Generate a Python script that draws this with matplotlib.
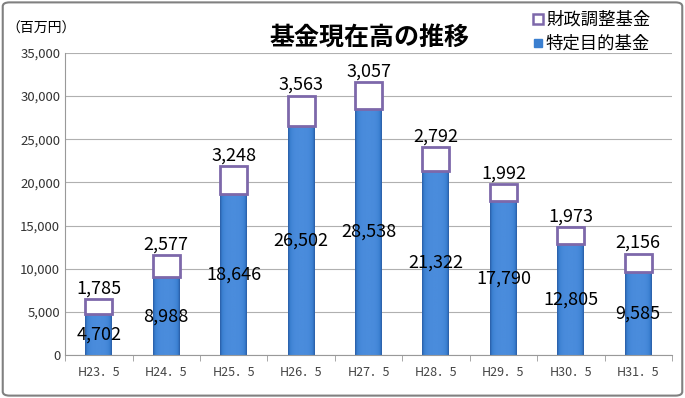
import numpy as np
import matplotlib.pyplot as plt
from matplotlib.patches import FancyBboxPatch
from matplotlib.lines import Line2D
from matplotlib.colors import LinearSegmentedColormap

plt.rcParams['font.family'] = ['Noto Sans CJK JP', 'DejaVu Sans']

years = ['H23．5', 'H24．5', 'H25．5', 'H26．5', 'H27．5', 'H28．5', 'H29．5', 'H30．5', 'H31．5']
tokutei = [4702, 8988, 18646, 26502, 28538, 21322, 17790, 12805, 9585]   # 特定目的基金
zaisei = [1785, 2577, 3248, 3563, 3057, 2792, 1992, 1973, 2156]          # 財政調整基金

fig = plt.figure(figsize=(6.85, 3.98), dpi=100)
fig.patches.append(FancyBboxPatch((0.004, 0.006), 0.992, 0.988, boxstyle='round,pad=0,rounding_size=0.01',
                                  transform=fig.transFigure, fill=False, edgecolor='#808080', linewidth=1.5))
ax = fig.add_axes([0.095, 0.108, 0.886, 0.759])

x = np.arange(len(years))
w = 0.4
bars = ax.bar(x, tokutei, width=w, color='#3a7fd0', zorder=2, label='特定目的基金')
tops = ax.bar(x, zaisei, width=w, bottom=tokutei, color='white', edgecolor='#7d68aa',
              linewidth=2, zorder=3, label='財政調整基金')

# blue bars: flat middle, darker edges
u = np.linspace(-1, 1, 60)
grad = (1 - np.abs(u) ** 4)[None, :]
cmap = LinearSegmentedColormap.from_list('b', ['#2a5ea6', '#3a7fd0', '#4a8cdc'])
for b in bars:
    im = ax.imshow(grad, cmap=cmap, aspect='auto', zorder=2.5, interpolation='bilinear',
                   extent=(b.get_x(), b.get_x() + b.get_width(), 0, b.get_height()))
    im.set_clip_path(b)

for i in range(len(x)):
    ax.text(x[i], tokutei[i] / 2, f'{tokutei[i]:,}', ha='center', va='center', fontsize=13, zorder=5)
    ax.text(x[i], tokutei[i] + zaisei[i] + 200, f'{zaisei[i]:,}', ha='center', va='bottom', fontsize=13, zorder=5)

ax.set_xlim(-0.5, len(x) - 0.5)
ax.set_ylim(0, 35000)
ax.set_yticks(np.arange(0, 35001, 5000))
ax.set_yticklabels([f'{v:,}' for v in range(0, 35001, 5000)], fontsize=9.5, color='#333333')
ax.set_xticks(x)
ax.set_xticklabels(years, fontsize=9, color='#444444')
ax.set_xticks(np.arange(-0.5, len(x), 1), minor=True)
ax.tick_params(axis='x', which='major', length=0, pad=8)
ax.tick_params(axis='x', which='minor', length=4, color='#999999')
ax.tick_params(axis='y', length=0)
ax.grid(axis='y', color='#b0b0b0', linewidth=0.8, zorder=0)
for s in ['top', 'right']:
    ax.spines[s].set_visible(False)
ax.spines['left'].set_color('#999999')
ax.spines['bottom'].set_color('#999999')

fig.text(0.01, 0.928, '（百万円）', fontsize=10, va='center')
fig.text(0.54, 0.905, '基金現在高の推移', fontsize=18, fontweight='bold', ha='center', va='center')

handles = [Line2D([], [], marker='s', linestyle='none', markersize=7, markerfacecolor='white',
                  markeredgecolor='#7d68aa', markeredgewidth=1.8),
           Line2D([], [], marker='s', linestyle='none', markersize=5.5, color='#3a7fd0')]
fig.legend(handles, ['財政調整基金', '特定目的基金'], loc='upper right', bbox_to_anchor=(0.972, 1.012),
           frameon=False, fontsize=12.5, handletextpad=0.05, labelspacing=0.35, handlelength=0.8)

fig.savefig('out.png', dpi=100)
